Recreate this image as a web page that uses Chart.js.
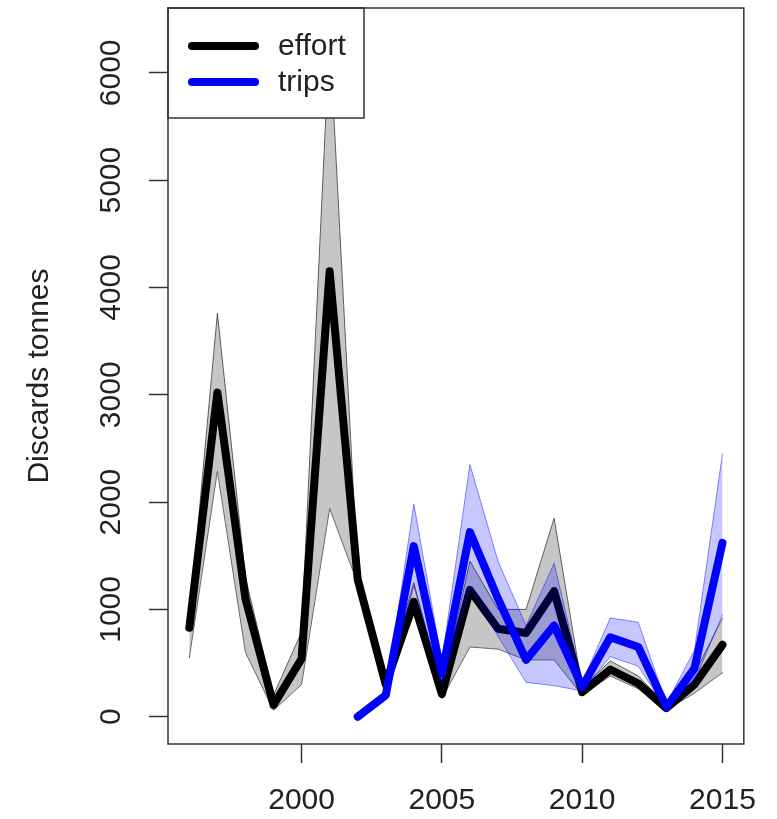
<!DOCTYPE html>
<html>
<head>
<meta charset="utf-8">
<script src="https://cdn.jsdelivr.net/npm/chart.js@4/dist/chart.umd.min.js"></script>
<style>
  html, body { margin: 0; padding: 0; background: #fff; }
  #wrap { width: 777px; height: 819px; }
</style>
</head>
<body>
<div id="wrap"><canvas id="myChart" width="777" height="819"></canvas></div>
<script>
// years and estimates
var effortYears = [1996, 1997, 1998, 1999, 2000, 2001, 2002, 2003, 2004, 2005,
                   2006, 2007, 2008, 2009, 2010, 2011, 2012, 2013, 2014, 2015];
var effort   = [830, 3020, 1100, 110, 540, 4150, 1280, 300, 1070, 210, 1180, 820, 780, 1170, 230, 440, 310, 80, 300, 670];
var effortLo = [550, 2290, 600, 60, 300, 1940, 1240, 260, 950, 170, 650, 630, 530, 530, 200, 380, 260, 60, 220, 410];
var effortHi = [900, 3760, 1300, 200, 790, 6350, 1330, 340, 1250, 260, 1450, 1000, 1000, 1850, 270, 520, 380, 110, 400, 920];

var tripYears = [2002, 2003, 2004, 2005, 2006, 2007, 2008, 2009, 2010, 2011, 2012, 2013, 2014, 2015];
var trips   = [0, 200, 1590, 400, 1720, 1100, 530, 850, 280, 740, 650, 90, 450, 1620];
var tripsLo = [0, 200, 1220, 300, 1200, 750, 320, 290, 240, 560, 470, 70, 330, 950];
var tripsHi = [0, 200, 1980, 520, 2350, 1450, 850, 1430, 320, 920, 880, 120, 620, 2450];

var xTicks = [2000, 2005, 2010, 2015];
var yTicks = [0, 1000, 2000, 3000, 4000, 5000, 6000];

var textColor = '#222';
var fontFamily = '"Liberation Sans", Arial, Helvetica, sans-serif';

function toPoints(xs, ys) {
  return xs.map(function(x, i) { return { x: x, y: ys[i] }; });
}

function lineSet(label, xs, ys, color, width, order, fill, bg) {
  return {
    label: label,
    data: toPoints(xs, ys),
    borderColor: color,
    borderWidth: width,
    backgroundColor: bg || color,
    fill: fill || false,
    pointRadius: 0,
    tension: 0,
    borderJoinStyle: 'round',
    borderCapStyle: 'round',
    order: order
  };
}

var datasets = [
  lineSet('effort upper', effortYears, effortHi, 'rgba(70,70,70,0.85)', 1, 4, '+1', 'rgba(128,128,128,0.45)'),
  lineSet('effort lower', effortYears, effortLo, 'rgba(70,70,70,0.85)', 1, 4),
  lineSet('effort', effortYears, effort, '#000000', 8, 3),
  lineSet('trips upper', tripYears, tripsHi, 'rgba(0,0,255,0.45)', 1, 2, '+1', 'rgba(0,0,255,0.22)'),
  lineSet('trips lower', tripYears, tripsLo, 'rgba(0,0,255,0.45)', 1, 2),
  lineSet('trips', tripYears, trips, '#0000ff', 8, 1)
];

// box, rotated y labels and R style legend
var rPlot = {
  id: 'rPlot',
  afterDatasetsDraw: function(chart) {
    var ctx = chart.ctx;
    var area = chart.chartArea;
    var yScale = chart.scales.y;

    ctx.save();
    ctx.fillStyle = textColor;
    ctx.font = '30px ' + fontFamily;
    ctx.textAlign = 'center';
    ctx.textBaseline = 'middle';
    yTicks.forEach(function(v) {
      ctx.save();
      ctx.translate(112, yScale.getPixelForValue(v));
      ctx.rotate(-Math.PI / 2);
      ctx.fillText(String(v), 0, 0);
      ctx.restore();
    });

    // legend
    var lx = area.left, ly = area.top, lw = 196, lh = 110;
    ctx.fillStyle = '#fff';
    ctx.fillRect(lx, ly, lw, lh);
    ctx.strokeStyle = '#333';
    ctx.lineWidth = 1.5;
    ctx.strokeRect(lx, ly, lw, lh);
    var entries = [chart.data.datasets[2], chart.data.datasets[5]];
    entries.forEach(function(ds, i) {
      var yy = ly + 38 + i * 36;
      ctx.strokeStyle = ds.borderColor;
      ctx.lineWidth = 8;
      ctx.lineCap = 'round';
      ctx.beginPath();
      ctx.moveTo(lx + 24, yy);
      ctx.lineTo(lx + 87, yy);
      ctx.stroke();
      ctx.fillStyle = textColor;
      ctx.textAlign = 'left';
      ctx.fillText(ds.label, lx + 110, yy + 1);
    });

    // plot frame
    ctx.strokeStyle = '#333';
    ctx.lineWidth = 1.5;
    ctx.strokeRect(area.left, area.top, area.right - area.left, area.bottom - area.top);
    ctx.restore();
  }
};

var ctx = document.getElementById('myChart').getContext('2d');

var myChart = new Chart(ctx, {
  type: 'line',
  data: { datasets: datasets },
  options: {
    responsive: false,
    animation: false,
    events: [],
    layout: { padding: { left: 0, top: 8, right: 31, bottom: 0 } },
    plugins: {
      legend: { display: false },
      tooltip: { enabled: false }
    },
    scales: {
      x: {
        type: 'linear',
        min: 1995.24,
        max: 2015.76,
        afterBuildTicks: function(scale) {
          scale.ticks = xTicks.map(function(v) { return { value: v }; });
        },
        afterFit: function(scale) { scale.height = 75; },
        grid: {
          drawOnChartArea: false,
          tickLength: 19,
          tickColor: '#333',
          tickWidth: 1.5
        },
        border: { display: false },
        ticks: {
          color: textColor,
          padding: 20,
          maxRotation: 0,
          font: { size: 30, family: fontFamily },
          callback: function(v) { return String(v); }
        }
      },
      y: {
        type: 'linear',
        min: -254,
        max: 6604,
        afterBuildTicks: function(scale) {
          scale.ticks = yTicks.map(function(v) { return { value: v }; });
        },
        afterFit: function(scale) { scale.width = 168; },
        grid: {
          drawOnChartArea: false,
          tickLength: 19,
          tickColor: '#333',
          tickWidth: 1.5
        },
        border: { display: false },
        ticks: { display: false },
        title: {
          display: true,
          text: 'Discards tonnes',
          color: textColor,
          font: { size: 30, family: fontFamily },
          padding: { top: 22, bottom: 0 }
        }
      }
    }
  },
  plugins: [rPlot]
});
</script>
</body>
</html>
